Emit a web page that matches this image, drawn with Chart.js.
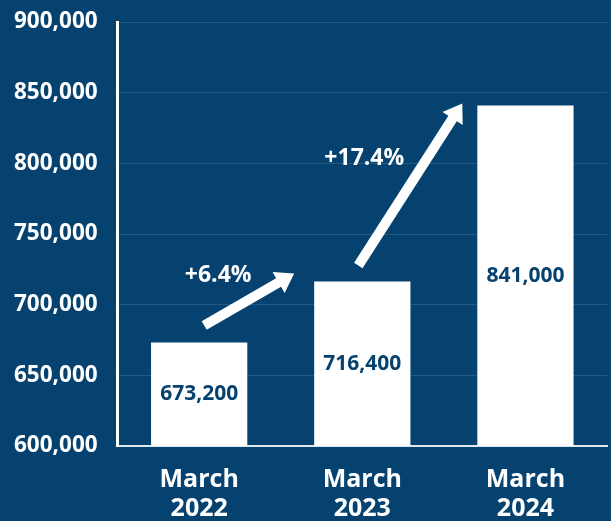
<!DOCTYPE html>
<html>
<head>
<meta charset="utf-8">
<script src="https://cdn.jsdelivr.net/npm/chart.js@4.4.1/dist/chart.umd.min.js"></script>
<style>
  html, body { margin: 0; padding: 0; background: #06426f; }
  #wrap { width: 611px; height: 521px; position: relative; }
</style>
</head>
<body>
<div id="wrap"><canvas id="chart"></canvas></div>
<script>
const categories = [['March', '2022'], ['March', '2023'], ['March', '2024']];
const employees = [673200, 716400, 841000];
const changeLabels = ['+6.4%', '+17.4%'];
const yTicks = [600000, 650000, 700000, 750000, 800000, 850000, 900000];

const BG = '#06426f';
const FONT = '"Open Sans", sans-serif';

const fmt = v => v.toLocaleString('en-US');

// per-arrow pixel tweaks: tail offset from bar i top-centre, tip offset from bar i+1 top-left, label offset from tail
const arrowStyle = [
  { tail: [5, -17], tip: [-20, -8], label: [14, -50] },
  { tail: [-4, -16], tip: [-15, -2], label: [6, -107] }
];

const drawArrow = (ctx, x1, y1, x2, y2) => {
  const ang = Math.atan2(y2 - y1, x2 - x1);
  const headLen = 18, headW = 12, shaft = 5;
  const len = Math.hypot(x2 - x1, y2 - y1);
  ctx.save();
  ctx.translate(x1, y1);
  ctx.rotate(ang);
  ctx.beginPath();
  ctx.moveTo(0, -shaft);
  ctx.lineTo(len - headLen, -shaft);
  ctx.lineTo(len - headLen, -headW);
  ctx.lineTo(len, 0);
  ctx.lineTo(len - headLen, headW);
  ctx.lineTo(len - headLen, shaft);
  ctx.lineTo(0, shaft);
  ctx.closePath();
  ctx.fillStyle = '#ffffff';
  ctx.fill();
  ctx.restore();
};

const annotations = {
  id: 'annotations',
  afterDatasetsDraw(chart) {
    const ctx = chart.ctx;
    const bars = chart.getDatasetMeta(0).data;
    const base = chart.scales.y.bottom;
    // values inside bars
    ctx.save();
    ctx.fillStyle = BG;
    ctx.font = 'bold 21px ' + FONT;
    ctx.textAlign = 'center';
    ctx.textBaseline = 'middle';
    bars.forEach((b, i) => {
      ctx.fillText(fmt(employees[i]), b.x, (b.y + base) / 2);
    });
    ctx.restore();
    // growth arrows
    changeLabels.forEach((txt, i) => {
      const a = bars[i], b = bars[i + 1];
      const s = arrowStyle[i];
      const x1 = a.x + s.tail[0], y1 = a.y + s.tail[1];
      const x2 = b.x - b.width / 2 + s.tip[0], y2 = b.y + s.tip[1];
      drawArrow(ctx, x1, y1, x2, y2);
      ctx.save();
      ctx.fillStyle = '#ffffff';
      ctx.font = 'bold 23px ' + FONT;
      ctx.textAlign = 'center';
      ctx.textBaseline = 'middle';
      ctx.fillText(txt, x1 + s.label[0], y1 + s.label[1]);
      ctx.restore();
    });
  }
};

new Chart(document.getElementById('chart').getContext('2d'), {
  type: 'bar',
  data: {
    labels: categories,
    datasets: [{
      data: employees,
      backgroundColor: '#ffffff',
      borderWidth: 0,
      barPercentage: 0.59,
      categoryPercentage: 1
    }]
  },
  options: {
    responsive: true,
    maintainAspectRatio: false,
    animation: false,
    layout: { padding: { top: 22, right: 4, left: -6, bottom: 0 } },
    plugins: { legend: { display: false }, tooltip: { enabled: false } },
    scales: {
      x: {
        grid: { display: false, drawTicks: false },
        border: { color: '#dfe6ee', width: 2 },
        afterFit: axis => { axis.height = 75; },
        ticks: {
          color: '#ffffff',
          padding: 19,
          font: { family: FONT, size: 25, weight: 'bold', lineHeight: 1.18 }
        }
      },
      y: {
        min: 600000,
        max: 900000,
        afterBuildTicks: axis => { axis.ticks = yTicks.map(v => ({ value: v })); },
        afterFit: axis => { axis.paddingTop = 0; axis.paddingBottom = 0; },
        grid: { color: 'rgba(255,255,255,0.12)', drawTicks: false, lineWidth: 1 },
        border: { color: '#ffffff', width: 3 },
        ticks: {
          color: '#ffffff',
          padding: 20,
          font: { family: FONT, size: 22.5, weight: 'bold' },
          callback: v => fmt(v)
        }
      }
    }
  },
  plugins: [annotations]
});
</script>
</body>
</html>
